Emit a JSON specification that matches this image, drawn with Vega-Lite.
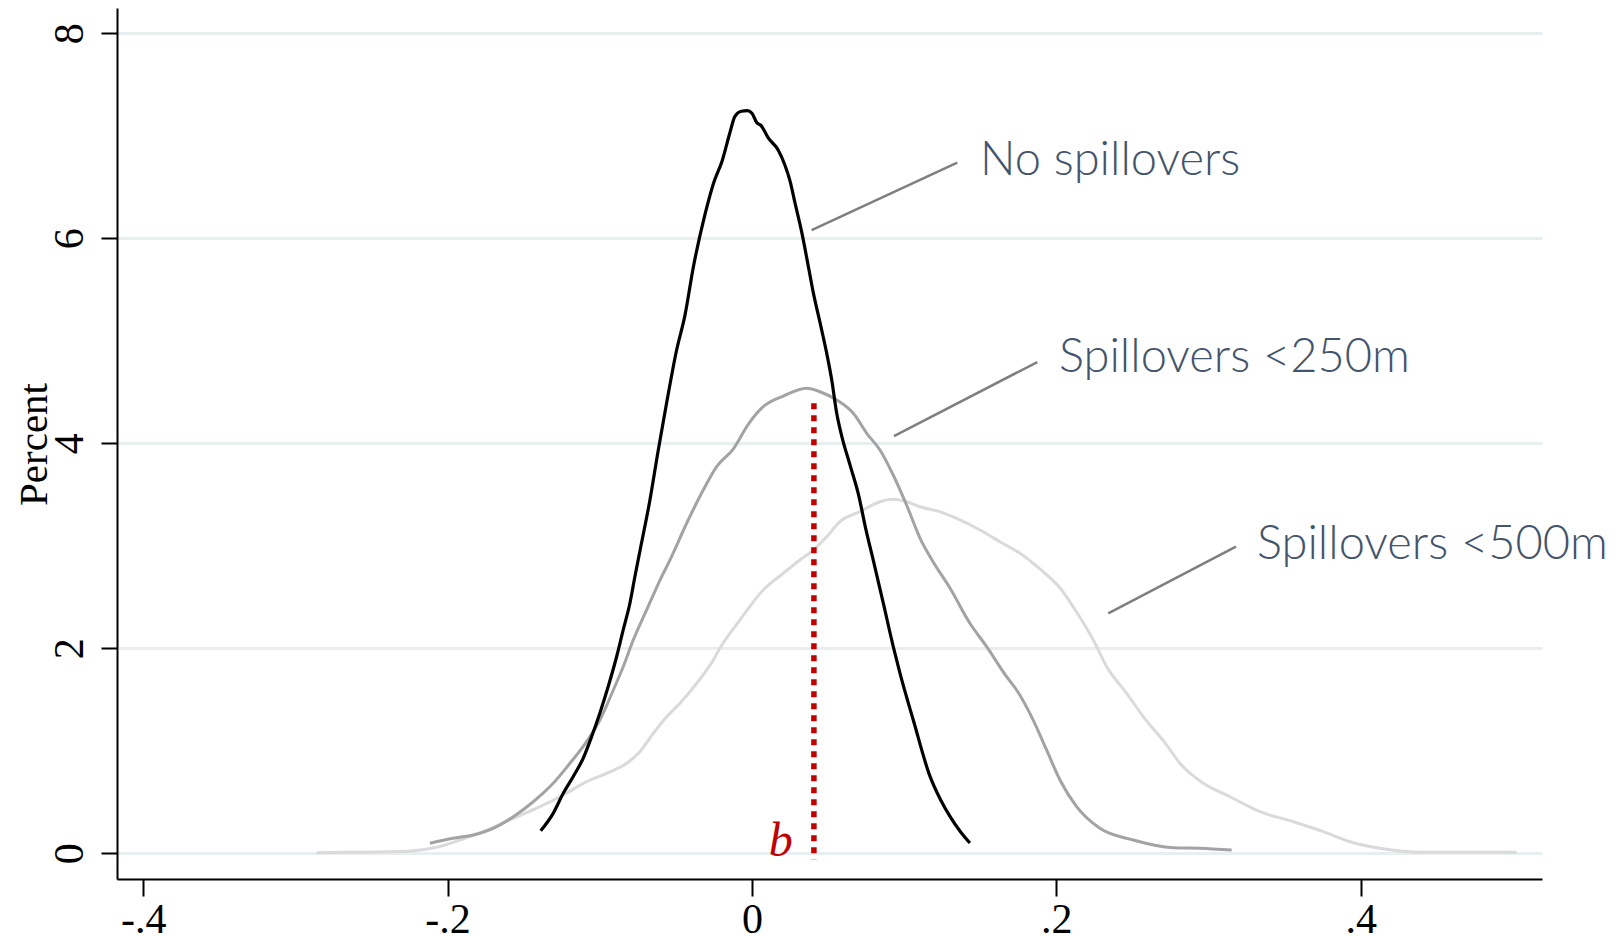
{
  "$schema": "https://vega.github.io/schema/vega-lite/v6.json",
  "width": 1425,
  "height": 871,
  "autosize": {"type": "none"},
  "padding": {"left": 117, "top": 8, "right": 82, "bottom": 57},
  "background": "white",
  "config": {"view": {"stroke": null}},
  "datasets": {
    "none": [
      {"x": -0.1388, "y": 0.22}, {"x": -0.1306, "y": 0.39}, {"x": -0.124, "y": 0.585}, {"x": -0.1174, "y": 0.75},
      {"x": -0.1108, "y": 0.93}, {"x": -0.1053, "y": 1.14}, {"x": -0.0999, "y": 1.37}, {"x": -0.0944, "y": 1.63},
      {"x": -0.0889, "y": 1.92}, {"x": -0.0846, "y": 2.18}, {"x": -0.0802, "y": 2.44}, {"x": -0.0769, "y": 2.7},
      {"x": -0.0736, "y": 2.95}, {"x": -0.067, "y": 3.45}, {"x": -0.0616, "y": 3.93}, {"x": -0.056, "y": 4.4},
      {"x": -0.0495, "y": 4.91}, {"x": -0.044, "y": 5.25}, {"x": -0.0385, "y": 5.72}, {"x": -0.0309, "y": 6.23},
      {"x": -0.0254, "y": 6.53}, {"x": -0.0195, "y": 6.76}, {"x": -0.0145, "y": 7.03}, {"x": -0.0112, "y": 7.19},
      {"x": -0.007, "y": 7.24}, {"x": -0.003, "y": 7.245}, {"x": 0.0, "y": 7.22}, {"x": 0.0031, "y": 7.13},
      {"x": 0.006, "y": 7.1}, {"x": 0.0107, "y": 6.98}, {"x": 0.0173, "y": 6.86}, {"x": 0.0215, "y": 6.72},
      {"x": 0.025, "y": 6.56}, {"x": 0.0282, "y": 6.35}, {"x": 0.0327, "y": 6.06}, {"x": 0.037, "y": 5.73},
      {"x": 0.0403, "y": 5.47}, {"x": 0.0447, "y": 5.18}, {"x": 0.0491, "y": 4.88}, {"x": 0.0524, "y": 4.62},
      {"x": 0.0556, "y": 4.3}, {"x": 0.059, "y": 4.07}, {"x": 0.0646, "y": 3.78}, {"x": 0.07, "y": 3.5},
      {"x": 0.075, "y": 3.15}, {"x": 0.0797, "y": 2.86}, {"x": 0.0863, "y": 2.44}, {"x": 0.0928, "y": 2.02},
      {"x": 0.0972, "y": 1.76}, {"x": 0.106, "y": 1.3}, {"x": 0.117, "y": 0.75}, {"x": 0.124, "y": 0.52},
      {"x": 0.1301, "y": 0.36}, {"x": 0.137, "y": 0.21}, {"x": 0.1432, "y": 0.1}
    ],
    "s250": [
      {"x": -0.2116, "y": 0.098}, {"x": -0.1963, "y": 0.146}, {"x": -0.1831, "y": 0.179}, {"x": -0.17, "y": 0.244},
      {"x": -0.1568, "y": 0.357}, {"x": -0.1437, "y": 0.503}, {"x": -0.1306, "y": 0.683}, {"x": -0.1196, "y": 0.878},
      {"x": -0.1086, "y": 1.089}, {"x": -0.0999, "y": 1.3}, {"x": -0.0911, "y": 1.593}, {"x": -0.0846, "y": 1.82},
      {"x": -0.078, "y": 2.081}, {"x": -0.0692, "y": 2.374}, {"x": -0.0604, "y": 2.666}, {"x": -0.0539, "y": 2.861},
      {"x": -0.0429, "y": 3.22}, {"x": -0.032, "y": 3.544}, {"x": -0.0232, "y": 3.772}, {"x": -0.0123, "y": 3.944},
      {"x": -0.002, "y": 4.195}, {"x": 0.0074, "y": 4.357}, {"x": 0.0206, "y": 4.461}, {"x": 0.0359, "y": 4.537},
      {"x": 0.0447, "y": 4.503}, {"x": 0.0557, "y": 4.422}, {"x": 0.0666, "y": 4.293}, {"x": 0.0754, "y": 4.098},
      {"x": 0.0841, "y": 3.935}, {"x": 0.0928, "y": 3.691}, {"x": 0.1016, "y": 3.398}, {"x": 0.1104, "y": 3.076},
      {"x": 0.1191, "y": 2.842}, {"x": 0.1301, "y": 2.588}, {"x": 0.1432, "y": 2.244}, {"x": 0.1542, "y": 2.016},
      {"x": 0.1673, "y": 1.723}, {"x": 0.1739, "y": 1.593}, {"x": 0.1848, "y": 1.3}, {"x": 0.1936, "y": 1.008},
      {"x": 0.2024, "y": 0.715}, {"x": 0.2133, "y": 0.455}, {"x": 0.2286, "y": 0.244}, {"x": 0.2505, "y": 0.13},
      {"x": 0.2768, "y": 0.055}, {"x": 0.2943, "y": 0.049}, {"x": 0.3152, "y": 0.032}
    ],
    "s500": [
      {"x": -0.286, "y": 0.006}, {"x": -0.2663, "y": 0.01}, {"x": -0.2444, "y": 0.013}, {"x": -0.2225, "y": 0.025},
      {"x": -0.2072, "y": 0.059}, {"x": -0.1919, "y": 0.13}, {"x": -0.1743, "y": 0.227}, {"x": -0.1568, "y": 0.341},
      {"x": -0.1393, "y": 0.455}, {"x": -0.124, "y": 0.569}, {"x": -0.1086, "y": 0.699}, {"x": -0.0955, "y": 0.78},
      {"x": -0.0823, "y": 0.878}, {"x": -0.0736, "y": 0.991}, {"x": -0.0648, "y": 1.171}, {"x": -0.056, "y": 1.333},
      {"x": -0.0473, "y": 1.463}, {"x": -0.0363, "y": 1.659}, {"x": -0.0254, "y": 1.886}, {"x": -0.021, "y": 2.003},
      {"x": -0.0079, "y": 2.276}, {"x": 0.0074, "y": 2.569}, {"x": 0.0206, "y": 2.732}, {"x": 0.0315, "y": 2.861},
      {"x": 0.0403, "y": 2.959}, {"x": 0.0491, "y": 3.089}, {"x": 0.0578, "y": 3.235}, {"x": 0.071, "y": 3.333},
      {"x": 0.0841, "y": 3.43}, {"x": 0.0928, "y": 3.454}, {"x": 0.1016, "y": 3.43}, {"x": 0.1104, "y": 3.381},
      {"x": 0.1235, "y": 3.333}, {"x": 0.1367, "y": 3.252}, {"x": 0.1498, "y": 3.154}, {"x": 0.1629, "y": 3.04},
      {"x": 0.1761, "y": 2.927}, {"x": 0.1892, "y": 2.774}, {"x": 0.2024, "y": 2.588}, {"x": 0.2133, "y": 2.354},
      {"x": 0.2243, "y": 2.081}, {"x": 0.2331, "y": 1.82}, {"x": 0.2462, "y": 1.561}, {"x": 0.2571, "y": 1.333},
      {"x": 0.2725, "y": 1.056}, {"x": 0.2812, "y": 0.878}, {"x": 0.2966, "y": 0.683}, {"x": 0.3141, "y": 0.552},
      {"x": 0.3338, "y": 0.406}, {"x": 0.3557, "y": 0.308}, {"x": 0.3754, "y": 0.211}, {"x": 0.3929, "y": 0.113},
      {"x": 0.4126, "y": 0.049}, {"x": 0.4411, "y": 0.01}, {"x": 0.5024, "y": 0.01}
    ],
    "leaders": [
      {"x": 0.0392, "y": 6.081, "xe": 0.1349, "ye": 6.738},
      {"x": 0.0933, "y": 4.071, "xe": 0.1875, "ye": 4.793},
      {"x": 0.2341, "y": 2.341, "xe": 0.318, "ye": 2.991}
    ],
    "labels": [
      {"x": 0.1498, "y": 6.617, "label": "No spillovers"},
      {"x": 0.2017, "y": 4.696, "label": "Spillovers <250m"},
      {"x": 0.3318, "y": 2.871, "label": "Spillovers <500m"}
    ],
    "bmark": [
      {"x": 0.0407, "y": 4.39, "ye": -0.06, "label": "b", "lx": 0.019, "ly": -0.026}
    ]
  },
  "encoding": {
    "x": {
      "field": "x",
      "type": "quantitative",
      "scale": {"domain": [-0.4172, 0.5191], "nice": false, "zero": false},
      "axis": {
        "values": [-0.4, -0.2, 0, 0.2, 0.4],
        "labelExpr": "datum.value < -0.3 ? '-.4' : datum.value < -0.1 ? '-.2' : datum.value < 0.1 ? '0' : datum.value < 0.3 ? '.2' : '.4'",
        "title": null,
        "grid": false,
        "domainColor": "black",
        "domainWidth": 2,
        "tickColor": "black",
        "tickWidth": 2,
        "tickSize": 17,
        "labelFont": "Liberation Serif",
        "labelFontSize": 42,
        "labelColor": "black",
        "labelPadding": 3,
        "labelFlush": false,
        "labelOverlap": false
      }
    },
    "y": {
      "field": "y",
      "type": "quantitative",
      "scale": {"domain": [-0.2507, 8.247], "nice": false, "zero": false},
      "axis": {
        "values": [0, 2, 4, 6, 8],
        "format": "d",
        "title": "Percent",
        "grid": true,
        "gridColor": "#e7eff0",
        "gridWidth": 3,
        "domainColor": "black",
        "domainWidth": 2,
        "tickColor": "black",
        "tickWidth": 2,
        "tickSize": 16,
        "labelAngle": -90,
        "labelAlign": "center",
        "labelBaseline": "alphabetic",
        "labelPadding": 19,
        "labelFont": "Liberation Serif",
        "labelFontSize": 42,
        "labelColor": "black",
        "labelFlush": false,
        "labelOverlap": false,
        "titleFont": "Liberation Serif",
        "titleFontSize": 41,
        "titleFontWeight": "normal",
        "titleColor": "black",
        "titleAngle": -90,
        "titleAlign": "center",
        "titleBaseline": "alphabetic",
        "titleX": -71,
        "titleY": 436
      }
    }
  },
  "layer": [
    {
      "data": {"name": "s500"},
      "mark": {"type": "line", "color": "#dadada", "strokeWidth": 3, "interpolate": "monotone"}
    },
    {
      "data": {"name": "s250"},
      "mark": {"type": "line", "color": "#a3a3a3", "strokeWidth": 3, "interpolate": "monotone"}
    },
    {
      "data": {"name": "none"},
      "mark": {"type": "line", "color": "#000000", "strokeWidth": 3.2, "interpolate": "monotone"}
    },
    {
      "data": {"name": "bmark"},
      "mark": {"type": "rule", "color": "#c00000", "strokeWidth": 5.5, "strokeDash": [6, 6], "strokeCap": "butt"},
      "encoding": {"y2": {"field": "ye"}}
    },
    {
      "data": {"name": "bmark"},
      "mark": {"type": "text", "font": "Liberation Serif", "fontStyle": "italic", "fontSize": 48, "color": "#c00000", "align": "center", "baseline": "alphabetic"},
      "encoding": {
        "x": {"field": "lx", "type": "quantitative"},
        "y": {"field": "ly", "type": "quantitative"},
        "text": {"field": "label"}
      }
    },
    {
      "data": {"name": "leaders"},
      "mark": {"type": "rule", "color": "#7f7f7f", "strokeWidth": 2.5},
      "encoding": {"x2": {"field": "xe"}, "y2": {"field": "ye"}}
    },
    {
      "data": {"name": "labels"},
      "mark": {"type": "text", "font": "Lato", "fontWeight": 300, "fontSize": 47, "color": "#44546a", "align": "left", "baseline": "alphabetic"},
      "encoding": {"text": {"field": "label"}}
    }
  ]
}
